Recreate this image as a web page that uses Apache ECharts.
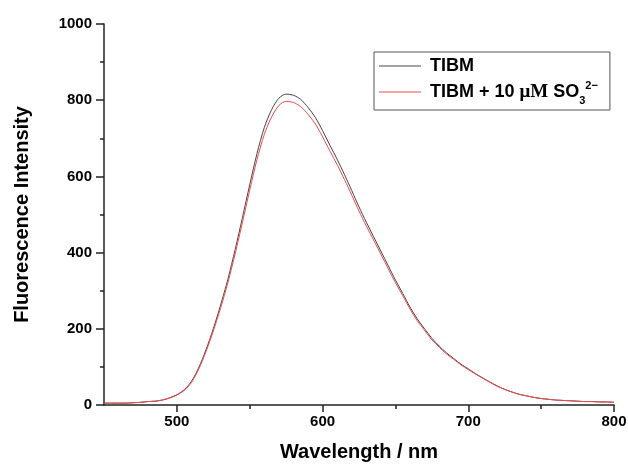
<!DOCTYPE html>
<html>
<head>
<meta charset="utf-8">
<script src="https://cdn.jsdelivr.net/npm/echarts@6/dist/echarts.min.js"></script>
<style>html,body{margin:0;padding:0;background:#fff}#c{width:628px;height:464px}</style>
</head>
<body>
<div id="c"></div>
<script>
const wavelengths = [];
for (let w = 450; w <= 800; w += 5) wavelengths.push(w);

const tibm = [5,5,5,5,6,7,9,10,13,19,27,40,62,98,145,200,262,330,408,492,578,660,728,775,805,816,813,802,781,755,720,682,645,605,563,520,480,442,404,366,328,293,257,226,200,175,155,137,122,107,95,82,71,60,50,41,34,28,24,20,17,15,13,12,11,10,9,9,8,8,7];
const tibmSO3 = [5,5,5,5,6,7,9,10,13,18,26,38,59,94,140,194,254,321,397,479,564,644,710,756,786,797,794,783,763,738,704,667,631,592,551,509,470,433,396,358,321,287,252,221,196,171,152,134,120,105,93,81,70,59,49,41,34,28,24,20,17,15,13,12,11,10,9,9,8,8,7];

const seriesNames = ['TIBM', 'TIBM + 10 μM SO32−'];
const xMajor = [500, 600, 700, 800];
const xMinor = [550, 650, 750];
const yMajor = [0, 200, 400, 600, 800, 1000];
const yMinor = [100, 300, 500, 700, 900];

const chart = echarts.init(document.getElementById('c'), null, {renderer: 'canvas'});
const F = 'Liberation Sans, Arial, sans-serif';
const axisCol = '#222';
const titleStyle = {fontFamily: F, fontWeight: 'bold', fontSize: 20, color: '#000'};
const labelStyle = {fontFamily: F, fontWeight: 'bold', fontSize: 15, color: '#000'};
const plain = function (v) { return String(v); };
chart.setOption({
  animation: false,
  backgroundColor: '#fff',
  grid: {left: 104, right: 14, top: 24, bottom: 59, containLabel: false, outerBoundsMode: 'none'},
  legend: {
    left: 374, top: 52,
    orient: 'vertical',
    data: seriesNames,
    itemWidth: 42, itemHeight: 10, itemGap: 5,
    padding: [5, 12, 4, 5],
    borderColor: '#555', borderWidth: 1,
    icon: 'path://M0,5L42,5L42,6L0,6Z',
    formatter: function (n) {
      return n === 'TIBM' ? '{b0|TIBM}' : '{b0|TIBM + 10 }{mu|μM}{b| SO}{sub|3}{sup|2−}';
    },
    textStyle: {
      fontFamily: F, fontWeight: 'bold', fontSize: 18, color: '#000',
      rich: {
        b0: {fontFamily: F, fontWeight: 'bold', fontSize: 18, color: '#000', lineHeight: 24, verticalAlign: 'middle', padding: [0, 0, 0, 4]},
        b: {fontFamily: F, fontWeight: 'bold', fontSize: 18, color: '#000', lineHeight: 24, verticalAlign: 'middle'},
        mu: {fontFamily: 'Liberation Serif, Times New Roman, serif', fontSize: 19, color: '#000', lineHeight: 24, verticalAlign: 'middle'},
        sub: {fontFamily: F, fontWeight: 'bold', fontSize: 11, color: '#000', lineHeight: 24, verticalAlign: 'bottom', padding: [0, 0, -2, 0]},
        sup: {fontFamily: F, fontWeight: 'bold', fontSize: 11, color: '#000', lineHeight: 24, verticalAlign: 'top'}
      }
    }
  },
  xAxis: [{
    type: 'value', min: 450, max: 800, interval: 50,
    name: 'Wavelength / nm', nameLocation: 'middle', nameGap: 37,
    nameTextStyle: titleStyle,
    axisLine: {show: true, onZero: false, lineStyle: {color: axisCol, width: 1.5}},
    axisTick: {show: true, inside: false, length: 7, customValues: xMajor, lineStyle: {color: axisCol, width: 1.5}},
    splitLine: {show: false},
    axisLabel: Object.assign({margin: 9, customValues: xMajor, formatter: plain}, labelStyle)
  }, {
    type: 'value', min: 450, max: 800, interval: 50, position: 'bottom',
    axisLine: {show: false, onZero: false},
    axisTick: {show: true, inside: false, length: 4, customValues: xMinor, lineStyle: {color: axisCol, width: 1.5}},
    splitLine: {show: false},
    axisLabel: {show: false}
  }],
  yAxis: [{
    type: 'value', min: 0, max: 1000, interval: 100,
    name: 'Fluorescence Intensity', nameLocation: 'middle', nameGap: 72,
    nameTextStyle: titleStyle,
    axisLine: {show: true, onZero: false, lineStyle: {color: axisCol, width: 1.5}},
    axisTick: {show: true, inside: false, length: 8, customValues: yMajor, lineStyle: {color: axisCol, width: 1.5}},
    splitLine: {show: false},
    axisLabel: Object.assign({margin: 12, customValues: yMajor, formatter: plain}, labelStyle)
  }, {
    type: 'value', min: 0, max: 1000, interval: 100, position: 'left',
    axisLine: {show: false, onZero: false},
    axisTick: {show: true, inside: false, length: 4, customValues: yMinor, lineStyle: {color: axisCol, width: 1.5}},
    splitLine: {show: false},
    axisLabel: {show: false}
  }],
  series: [
    {
      name: seriesNames[0], type: 'line', smooth: 0.3, showSymbol: false,
      data: wavelengths.map((w, i) => [w, tibm[i]]),
      lineStyle: {color: '#444', width: 1}, itemStyle: {color: '#444'}
    },
    {
      name: seriesNames[1], type: 'line', smooth: 0.3, showSymbol: false,
      data: wavelengths.map((w, i) => [w, tibmSO3[i]]),
      lineStyle: {color: '#ee4b4b', width: 1}, itemStyle: {color: '#ee4b4b'}
    }
  ]
});
</script>
</body>
</html>
